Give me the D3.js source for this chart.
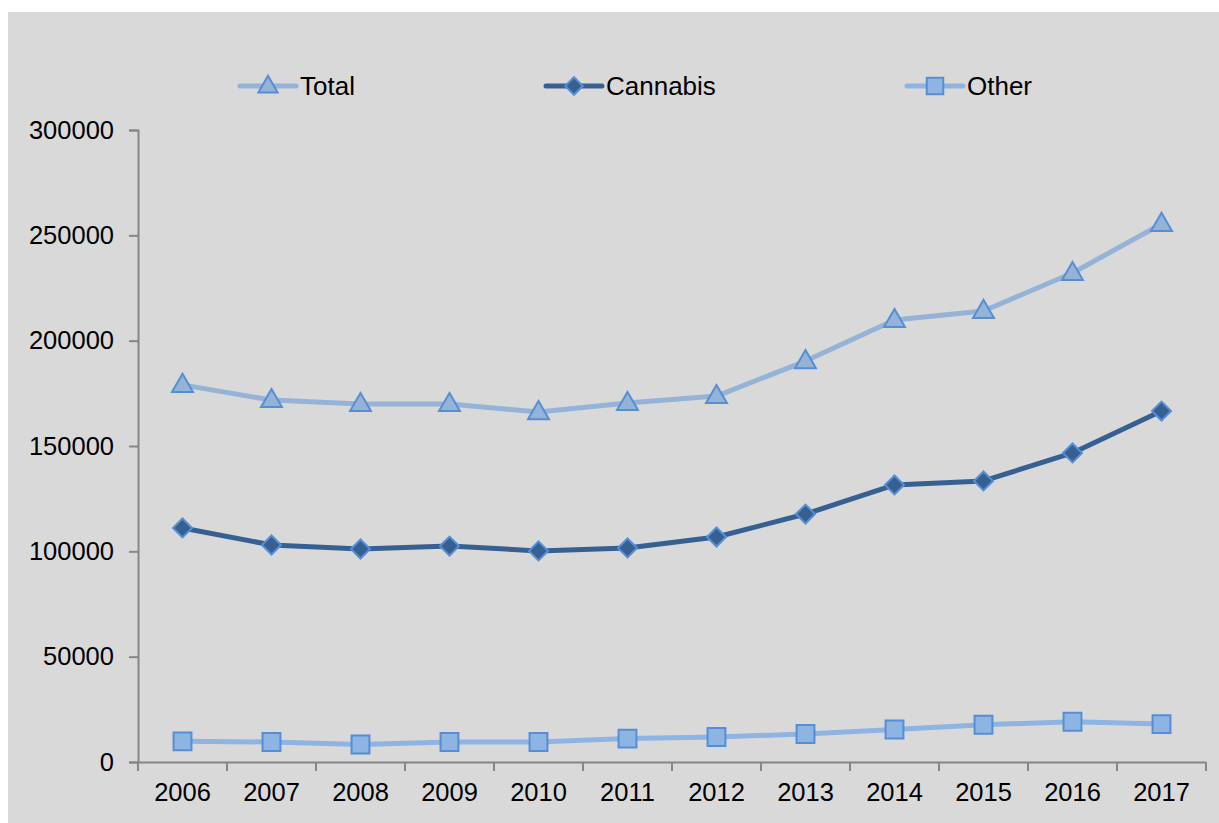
<!DOCTYPE html>
<html><head><meta charset="utf-8">
<script src="https://cdn.jsdelivr.net/npm/d3@7"></script>
<style>body{margin:0;background:#fff}svg{display:block}text{font-family:"Liberation Sans",Arial,sans-serif}</style>
</head><body>
<svg id="c" width="1219" height="823"></svg>
<script>
const years = ["2006","2007","2008","2009","2010","2011","2012","2013","2014","2015","2016","2017"];
const totalVals = [179000,171800,169900,169900,166100,170400,173700,190300,209800,214100,232100,255400];
const cannabisVals = [111100,103000,101100,102500,100200,101600,106800,117700,131500,133400,146700,166600];
const otherVals = [9800,9500,8300,9500,9500,11100,11900,13300,15400,17700,19100,18000];
const yTicks = [0,50000,100000,150000,200000,250000,300000];
const seriesNames = ["Total","Cannabis","Other"];

const svg = d3.select("#c");
svg.append("rect").attr("x",8).attr("y",12).attr("width",1211).attr("height",811).attr("fill","#d9d9d9");

const x = d3.scaleBand().domain(years).range([138,1206]);
const y = d3.scaleLinear().domain([0,300000]).range([762,130]);

const axisColor = "#868686";
const ff = "Liberation Sans, Arial, sans-serif";
// y axis
const ya = svg.append("g").attr("transform","translate(138,0)")
  .call(d3.axisLeft(y).tickValues(yTicks).tickFormat(d3.format("d")).tickSizeOuter(0).tickSize(9).tickPadding(15));
ya.select(".domain").attr("stroke",axisColor).attr("stroke-width",2);
ya.selectAll(".tick line").attr("stroke",axisColor).attr("stroke-width",2);
ya.selectAll("text").attr("font-size",25.5).attr("fill","#000").style("font-family",ff);

// x axis
const xa = svg.append("g").attr("transform","translate(0,762)")
  .call(d3.axisBottom(x).tickSize(0).tickPadding(21));
xa.select(".domain").attr("stroke",axisColor).attr("stroke-width",2);
xa.selectAll("text").attr("font-size",25.5).attr("fill","#000").style("font-family",ff);
// band boundary ticks
const bounds = years.map(d=>x(d)).concat([x(years[years.length-1])+x.bandwidth()]);
svg.append("g").selectAll("line").data(bounds).join("line")
  .attr("x1",d=>d).attr("x2",d=>d).attr("y1",762).attr("y2",771)
  .attr("stroke",axisColor).attr("stroke-width",2);

const cx = d => x(d) + x.bandwidth()/2;

const series = [
  {name:"Total", vals: totalVals, line:"#95b3d7", fill:"#95b3d7", stroke:"#558ed5", sym:d3.symbolTriangle, size:190, rot:0, dy:1},
  {name:"Cannabis", vals: cannabisVals, line:"#366092", fill:"#366092", stroke:"#558ed5", sym:d3.symbolSquare, size:180, rot:45, dy:0},
  {name:"Other", vals: otherVals, line:"#8eb4e3", fill:"#8eb4e3", stroke:"#558ed5", sym:d3.symbolSquare, size:320, rot:0, dy:0}
];

const line = d3.line().x(d=>cx(d.year)).y(d=>y(d.v));
series.forEach(s=>{
  const data = years.map((yr,i)=>({year:yr, v:s.vals[i]}));
  svg.append("path").datum(data).attr("d",line).attr("fill","none")
    .attr("stroke",s.line).attr("stroke-width",5).attr("stroke-linejoin","round");
  svg.append("g").selectAll("path").data(data).join("path")
    .attr("d", d3.symbol().type(s.sym).size(s.size))
    .attr("transform", d=>`translate(${cx(d.year)},${y(d.v) + s.dy}) rotate(${s.rot})`)
    .attr("fill",s.fill).attr("stroke",s.stroke).attr("stroke-width",2);
});

// legend
const legendX = [240, 546, 907];
const lg = svg.append("g");
series.forEach((s,i)=>{
  const g = lg.append("g").attr("transform",`translate(${legendX[i]},86)`);
  g.append("line").attr("x1",0).attr("x2",56).attr("y1",0).attr("y2",0)
    .attr("stroke",s.line).attr("stroke-width",5).attr("stroke-linecap","round");
  g.append("path").attr("d", d3.symbol().type(s.sym).size(s.size*0.85))
    .attr("transform",`translate(28,${s.dy}) rotate(${s.rot})`)
    .attr("fill",s.fill).attr("stroke",s.stroke).attr("stroke-width",2);
  g.append("text").attr("x",60).attr("y",0).attr("dy","0.35em")
    .attr("font-size",26).attr("fill","#000").style("font-family",ff).text(s.name);
});
</script>
</body></html>
